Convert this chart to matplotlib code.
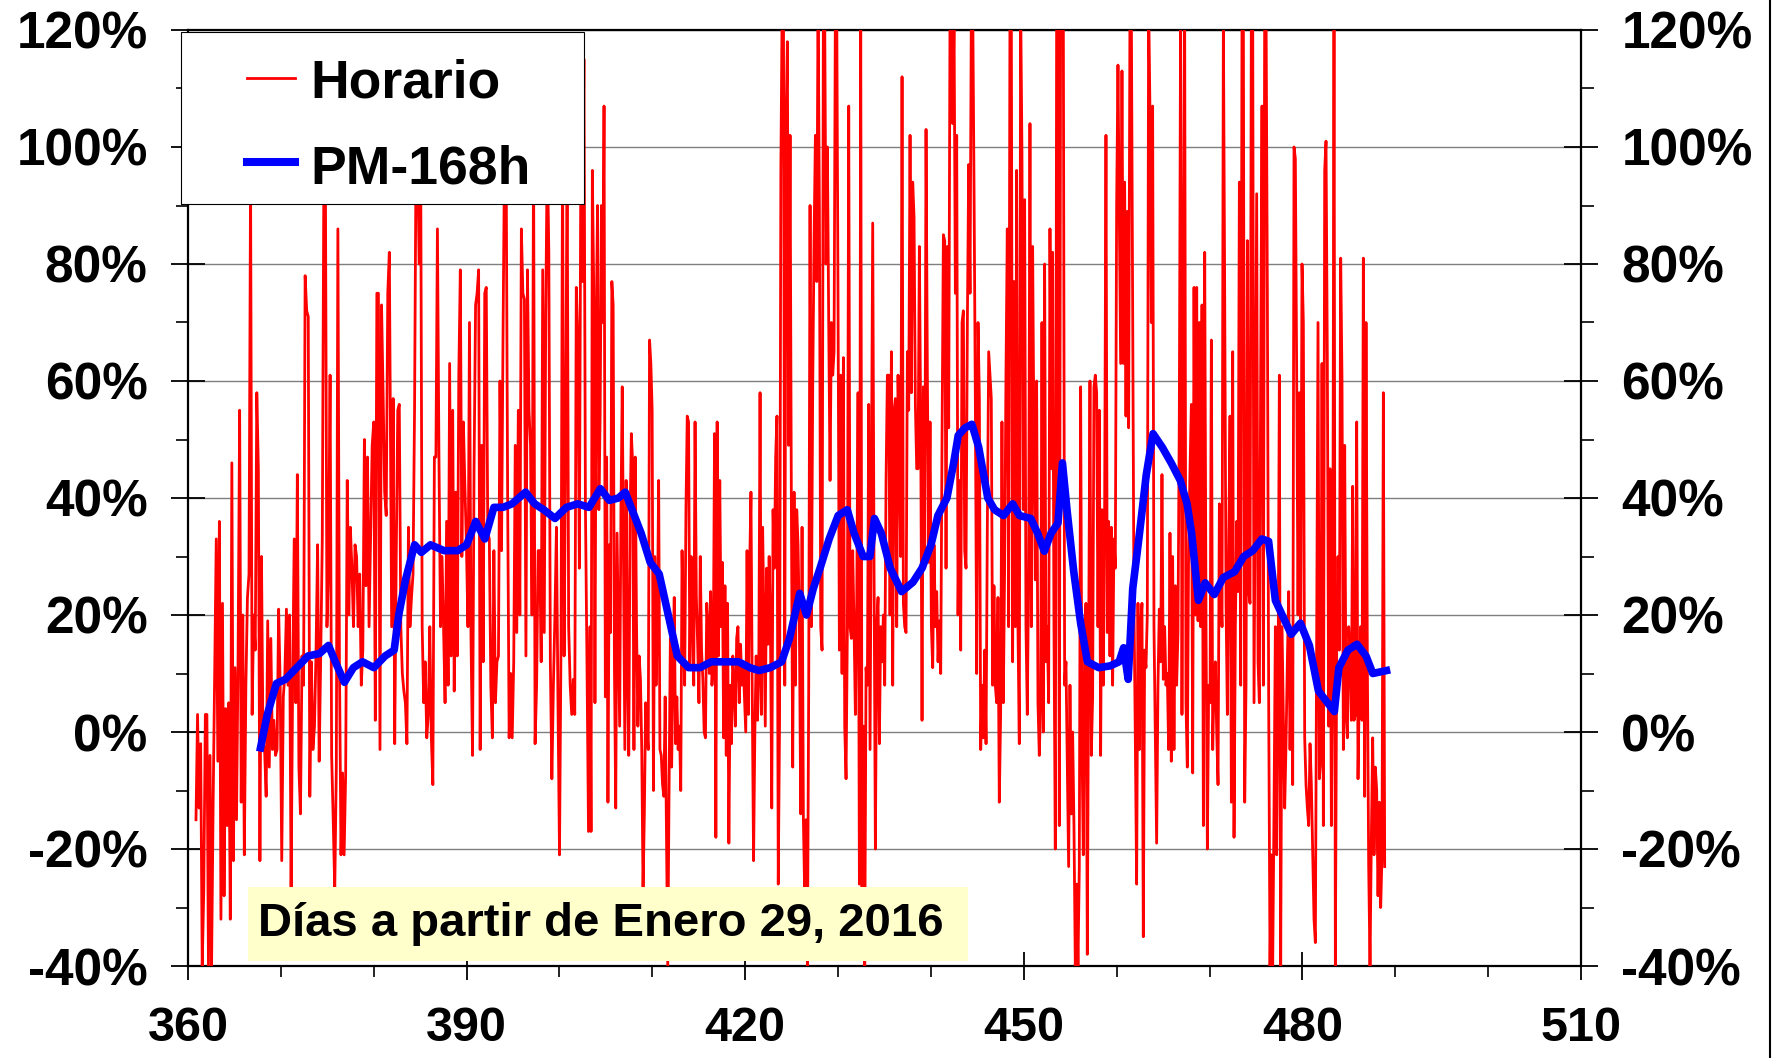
import numpy as np
import matplotlib
matplotlib.use("Agg")
import matplotlib.pyplot as plt
from matplotlib.patches import Rectangle
from matplotlib.lines import Line2D
from matplotlib.ticker import MultipleLocator, FuncFormatter

plt.rcParams['font.family'] = ['Liberation Sans', 'DejaVu Sans']
plt.rcParams['font.weight'] = 'bold'

# ---------------- data (days since Jan 29 2016, percent) ----------------
# Hourly series, read in six consecutive time segments (start day, end day)
seg_bounds = [(360.86, 381.68), (381.93, 403.29), (403.40, 424.68),
              (424.83, 446.22), (446.50, 467.75), (467.90, 488.86)]

horario_a = [-15, 3, -13, -2, -40, -27, 3, 3, -40, -4, -40, -12, 10, 33, -5, 36, -32, 22, -28, 4,
             -16, 5, -32, 46, -22, 11, -15, 13, 55, -12, 20, -21, 8, 23, 27, 95, 3, 20, 14, 58,
             45, -22, 30, -2, -3, -11, 19, -6, 16, -3, 2, -4, -3, 21, 8, -22, 6, 10, 21, 8,
             20, -27, 9, 33, 5, 44, -6, -14, 13, 8, 78, 72, 71, -11, 12, -3, 1, 14, 32, -5,
             13, 33, 95, 95, 18, 28, 61, -4, -15, -27, -6, 86, 12, -21, -7, -21, -7, 43, 20, 35,
             28, 18, 32, 30, 18, 27, 8, 14, 50, 25, 47, 18, 33, 49, 53, 2, 75, 75, -3, 73,
             58, 41, 37, 75, 82]
horario_b = [18, 57, -2, 30, 55, 56, 18, 10, 7, 5, -2, 35, 18, 23, 27, 55, 100, 100, 80, 100,
             18, 5, 12, -1, 3, 18, -1, -9, 47, 47, 86, 47, 18, 30, 18, 5, 36, 8, 63, 13,
             55, 7, 41, 13, 61, 79, 30, 53, 42, 32, 18, 70, 16, -4, 45, 73, 75, 79, -3, 49,
             12, 75, 76, 34, 33, 8, -1, 31, 5, 12, 13, 60, 31, 68, 100, 100, 41, -1, 10, -1,
             12, 49, 17, 55, 20, 86, 75, 74, 13, 79, 55, 49, 20, 100, -2, 8, 31, 31, 12, 79,
             17, 72, 100, 82, 12, -8, 8, 20, 35, 5, -21, 16, 100, 13, 48, 100, 18, 8, 3, 9,
             3, 76, 67, 28, 100, 77, 115, 38, 12, -17, 18]
horario_c = [-17, 96, 77, 5, 70, 90, 38, 54, 90, 70, 107, 6, 47, -12, 32, 17, 77, 73, 11, -13,
             34, 18, 1, 38, 59, 28, -3, 43, 11, -4, 36, 51, 46, -3, 47, 18, 1, 13, 9, -3,
             -27, -14, 5, 0, -3, 67, 63, 55, -10, 30, 8, 18, 43, -3, -4, -9, -11, 6, -17, -40,
             -10, 16, -6, 11, 23, -2, 6, -3, 1, -10, 31, 18, 8, 38, 54, 53, 11, 30, 22, 8,
             53, 23, 15, 5, 30, 14, 9, 0, -1, 22, 18, 10, 24, 8, 12, 51, -18, 53, 13, 43,
             18, 29, -1, 25, -4, 22, -19, 8, -2, 13, 8, 1, 16, 18, 5, 15, 8, 12, 6, 0,
             31, 3, 28, 41, 6, -22, 0, 13, 2, 10, 58, 3, 35, 18, 1, 28, 15, 30, 18, -13,
             38, 28, 47, 54, -26, 2, 96, 125, 125, 8, 104, 118, 49]
horario_d = [102, 38, -6, 41, 8, 38, 32, 18, -14, 35, -15, -28, -15, -40, 8, 90, 18, 59, 84, 102,
             77, 125, 90, 18, 14, 125, 122, 80, 100, 70, 43, 70, 61, 65, 125, 125, 73, 14, 61, 10,
             64, 1, -8, 18, 107, 18, 16, 31, 18, 3, 22, 58, -26, 125, -27, 1, -40, 11, 8, 56,
             -3, 43, 87, 28, -20, 18, 23, -2, 18, 12, 20, 8, 43, 61, 61, 20, 65, 8, 55, 57,
             18, 61, 47, 30, 112, 22, 18, 17, 65, 55, 102, 58, 94, 88, 56, 45, 45, 83, 52, 2,
             59, 28, 103, 61, 29, 53, 18, 11, 32, 18, 24, 12, 19, 10, 50, 85, 84, 28, 83, 52,
             125, 125, 104, 122, 75, 102, 20, 43, 14, 70, 72, 31, 28, 70, 97, 75, 125, 125, 93, 56,
             10, 70, 57, -3, 8, -1, 14, -2, 36, 65]
horario_e = [57, 8, 25, 8, 5, 23, -12, 3, 53, 5, 28, 61, 86, 18, 125, 125, 12, 77, 18, 96,
             18, -2, 125, 99, 38, 91, 18, 3, 28, 104, 18, 83, 49, 26, 60, 5, -4, 5, 70, 0,
             80, 12, 18, 5, 86, 45, 82, 18, -20, 122, 125, -16, 125, 125, 125, 8, 12, -6, -23, 8,
             -14, 0, -16, -40, -26, -40, -23, 59, -2, -21, 14, 22, -38, 14, 60, -4, 6, 59, 61, 58,
             18, 55, -4, 38, 8, 38, 102, 17, 36, 13, 35, 8, 33, 28, 90, 114, 88, 63, 113, 63,
             94, 54, 89, 52, 125, 125, 72, 22, -1, -26, 22, -3, 18, 22, -35, 14, 11, 20, 125, 106,
             70, 107, 18, -1, -19, 8, 21, 12, 44, 9, 18, 8, 10, -3, 34, -5, 30, -3, 25, 8,
             17, 54, 125, 3, 73, 125, 5, -6, 32]
horario_f = [45, 56, -7, 76, 20, 76, 19, 70, 18, 73, -16, 82, 18, -20, 8, 5, 67, -3, 8, 12,
             0, -9, 39, 26, 18, 122, 75, 22, 3, 32, 54, -12, 65, -18, 18, 36, 24, 94, 8, 125,
             125, -12, 8, 84, 24, 22, 125, 125, 5, 49, 92, 12, 5, 63, 107, 8, 125, 125, 75, 5,
             -40, -21, -40, -13, 18, -21, 6, 61, -40, 18, 2, -13, -2, 12, 24, -3, 16, -9, 100, 98,
             61, 20, 58, 18, 80, 70, -1, -9, -13, -16, -2, -9, -21, -32, -36, 18, 70, -8, -5, 63,
             -16, 96, 101, 63, 1, 45, -16, 12, 125, -40, 14, 30, 14, 81, 60, -3, 49, 3, -1, 18,
             14, 2, 42, 2, 3, 53, -8, 8, 18, 2, 81, -11, 70, 12, -23, -40, -18, -1, -21, -6,
             -10, -28, -12, -30, -21, 58, -23]
horario_segments = [horario_a, horario_b, horario_c, horario_d, horario_e, horario_f]

# 168-hour moving average
pm_days = [367.81, 368.54, 369.52, 370.49, 371.71, 372.93, 374.15, 375.13, 375.86, 376.84,
           377.81, 378.79, 380.01, 381.23, 382.20, 382.69, 383.42, 384.40, 385.13, 386.11,
           387.57, 389.03, 390.01, 390.98, 391.96, 392.94, 393.91, 394.89, 396.35, 397.33,
           398.30, 399.52, 400.74, 401.96, 403.18, 404.40, 405.38, 406.35, 407.08, 407.81,
           408.79, 409.77, 410.74, 411.72, 412.69, 413.91, 415.13, 416.35, 417.82, 419.28,
           420.50, 421.48, 422.70, 423.92, 424.77, 425.87, 426.60, 427.33, 428.06, 429.04,
           430.01, 430.99, 431.72, 432.70, 433.43, 433.92, 434.65, 435.62, 436.84, 438.06,
           439.04, 440.01, 440.75, 441.72, 442.45, 442.94, 443.68, 444.41, 445.14, 446.12,
           446.85, 447.82, 448.80, 449.53, 450.75, 451.48, 452.21, 452.94, 453.68, 454.16,
           454.65, 455.38, 456.12, 456.85, 458.07, 459.29, 460.26, 460.75, 461.24, 461.73,
           462.46, 463.19, 463.92, 464.90, 465.87, 466.85, 467.58, 468.07, 468.80, 469.53,
           470.51, 471.48, 472.70, 473.68, 474.66, 475.63, 476.36, 477.09, 477.82, 478.80,
           479.78, 480.75, 481.73, 482.70, 483.44, 483.93, 484.90, 485.88, 486.85, 487.58,
           489.05]
pm_vals = [-2.7, 3, 8.3, 9, 11, 13, 13.4, 14.8, 12, 8.5,
           11, 12, 11, 13, 14, 20, 26, 32, 30.7, 32,
           31, 31, 32, 36, 33, 38.4, 38.4, 39, 41, 39,
           38, 36.5, 38.4, 39, 38.4, 41.6, 39.6, 40, 41, 38,
           34, 29, 27, 20, 13, 11, 11, 12, 12, 12,
           11, 10.5, 11, 12, 16, 23.7, 20, 24.5, 28, 33,
           37, 38, 34, 30, 30, 36.5, 34, 28, 24, 25.6,
           28, 32, 37, 40, 46, 50.7, 52, 52.6, 48.7, 40,
           38, 37, 39, 37, 36.5, 34, 30.9, 34, 35.7, 46,
           38, 27.4, 18.6, 12, 11, 11.3, 12, 14.4, 9, 24.5,
           34, 44, 51, 48.7, 46, 43, 39, 34, 22.5, 25.5,
           23.5, 26.4, 27.4, 30, 31, 33, 32.6, 22.5, 20, 16.7,
           18.6, 14.8, 7, 5, 3.5, 11, 14, 15, 13, 10,
           10.5]

x_ticks = [360, 390, 420, 450, 480, 510]
y_ticks = [-40, -20, 0, 20, 40, 60, 80, 100, 120]
legend_labels = ["Horario", "PM-168h"]
note_text = "Días a partir de Enero 29, 2016"

# ---------------- figure ----------------
W, H = 1776, 1058
fig = plt.figure(figsize=(W / 100, H / 100), dpi=100)
ax = fig.add_axes([188 / W, 1 - 966 / H, (1581 - 188) / W, (966 - 30) / H])

h_days, h_vals = [], []
for (d0, d1), vals in zip(seg_bounds, horario_segments):
    h_days.extend(np.linspace(d0, d1, len(vals)))
    h_vals.extend(vals)

ax.plot(h_days, h_vals, color='#FF0000', lw=2.0, zorder=3)
ax.plot(pm_days, pm_vals, color='#0000FF', lw=5.5, zorder=4, solid_joinstyle='round')

ax.set_xlim(360, 510)
ax.set_ylim(-40, 120)
ax.set_xticks(x_ticks)
ax.xaxis.set_minor_locator(MultipleLocator(10))
ax.set_yticks(y_ticks)
ax.yaxis.set_minor_locator(MultipleLocator(10))
ax.yaxis.set_major_formatter(FuncFormatter(lambda v, p: f"{int(round(v))}%"))

ax.grid(axis='y', which='major', color='#7f7f7f', lw=1.0, zorder=1)
ax.set_axisbelow(True)

ax.tick_params(axis='y', which='major', direction='inout', length=24, width=1.3,
               left=True, right=True, labelleft=True, labelright=True,
               labelsize=37, pad=17)
ax.tick_params(axis='y', which='minor', direction='out', length=9, width=1.2,
               left=True, right=True)
ax.tick_params(axis='x', which='major', direction='inout', length=20, width=1.3,
               labelsize=35, pad=19)
ax.tick_params(axis='x', which='minor', direction='out', length=8, width=1.2)
for lab in ax.get_xticklabels() + ax.get_yticklabels():
    lab.set_fontweight('bold')
for t in ax.yaxis.get_major_ticks():
    t.label2.set_horizontalalignment('left')
    t.label2.set_fontweight('bold')

for s in ax.spines.values():
    s.set_linewidth(1.6)
    s.set_color('black')

# ---------------- legend (drawn as a box) ----------------
def fx(px):
    return px / W

def fy(py):
    return 1 - py / H

fig.add_artist(Rectangle((fx(181), fy(204)), fx(584) - fx(181), fy(32) - fy(204),
                         transform=fig.transFigure, facecolor='white', edgecolor='black',
                         lw=0.8, zorder=10))
fig.add_artist(Line2D([fx(247), fx(295)], [fy(78), fy(78)], transform=fig.transFigure,
                      color='#FF0000', lw=2.0, zorder=11))
fig.add_artist(Line2D([fx(247), fx(295)], [fy(162), fy(162)], transform=fig.transFigure,
                      color='#0000FF', lw=5.8, zorder=11))
fig.text(fx(310), fy(97), legend_labels[0], fontsize=38.5, fontweight='bold',
         va='baseline', ha='left', zorder=12)
fig.text(fx(310), fy(183), legend_labels[1], fontsize=38.5, fontweight='bold',
         va='baseline', ha='left', zorder=12)

# ---------------- note box ----------------
fig.add_artist(Rectangle((fx(248), fy(961)), fx(968) - fx(248), fy(887) - fy(961),
                         transform=fig.transFigure, facecolor='#FFFFCC', edgecolor='none',
                         zorder=10))
fig.text(fx(258), fy(924), note_text, fontsize=34, fontweight='bold',
         va='center', ha='left', zorder=12)

# right border of the picture
fig.add_artist(Line2D([fx(1770), fx(1770)], [0, 1], transform=fig.transFigure,
                      color='black', lw=1.5, zorder=12))

fig.savefig("out.png", dpi=100)
